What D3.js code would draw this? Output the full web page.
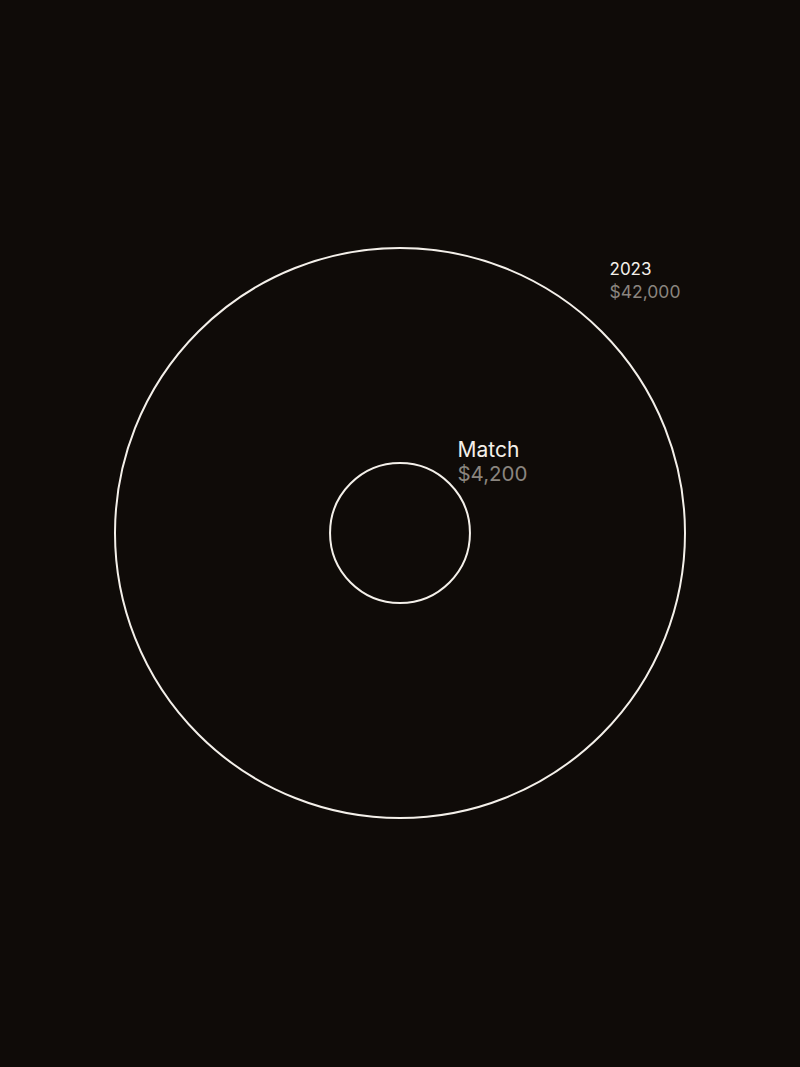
<!DOCTYPE html>
<html>
<head>
<meta charset="utf-8">
<script src="https://cdn.jsdelivr.net/npm/d3@7"></script>
<style>
  html, body { margin: 0; padding: 0; background: #0f0b08; }
  svg { display: block; }
</style>
</head>
<body>
<svg id="chart" width="800" height="1067"></svg>
<script>
// Data
const labels = ["2023", "Match"];
const values = [42000, 4200];
const valueLabels = ["$42,000", "$4,200"];

const W = 800, H = 1067;
const cx = 400, cy = 533;

const svg = d3.select("#chart");
svg.append("rect").attr("width", W).attr("height", H).attr("fill", "#0f0b08");

const r = d3.scalePow().exponent(0.61).domain([0, d3.max(values)]).range([0, 285]);

const data = labels.map((l, i) => ({ label: l, value: values[i], vlabel: valueLabels[i] }));

const g = svg.append("g");
g.selectAll("circle").data(data).join("circle")
  .attr("cx", cx).attr("cy", cy)
  .attr("r", d => r(d.value))
  .attr("fill", "none")
  .attr("stroke", "#f4f0ea")
  .attr("stroke-width", 2);

// label layout per item (font size, line offsets)
const style = [
  { fs1: 17, fs2: 17.5, dy1: -56, dy2: -33 },
  { fs1: 21, fs2: 20.5, dy1: -27, dy2: -3 }
];
const k = Math.SQRT1_2;
const lg = g.selectAll("g.lbl").data(data).join("g").attr("class", "lbl")
  .attr("transform", d => `translate(${cx + r(d.value) * k + 8},${cy - r(d.value) * k})`);
lg.append("text")
  .attr("y", (d, i) => style[i].dy1)
  .attr("font-family", "Inter, 'Liberation Sans', sans-serif")
  .attr("font-size", (d, i) => style[i].fs1)
  .attr("fill", "#f4f0ea")
  .text(d => d.label);
lg.append("text")
  .attr("y", (d, i) => style[i].dy2)
  .attr("font-family", "Inter, 'Liberation Sans', sans-serif")
  .attr("font-size", (d, i) => style[i].fs2)
  .attr("fill", "#8a857f")
  .text(d => d.vlabel);
</script>
</body>
</html>
